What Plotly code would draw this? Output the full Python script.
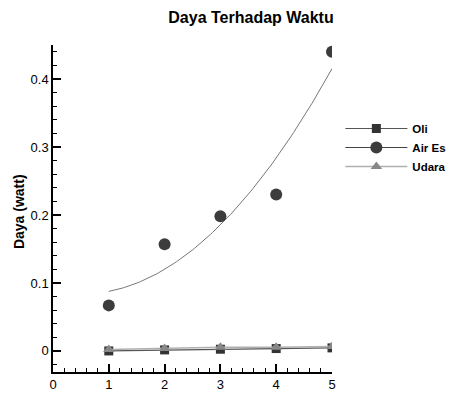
import numpy as np
import plotly.graph_objects as go

x = [1, 2, 3, 4, 5]
oli = [0.0, 0.0015, 0.0025, 0.0035, 0.0045]
air_es = [0.067, 0.157, 0.198, 0.230, 0.440]
udara = [0.002, 0.0035, 0.0055, 0.0055, 0.0065]

title = "Daya Terhadap Waktu"
y_title = "Daya (watt)"

coef = np.polyfit(x, air_es, 2)
xf = np.linspace(1, 5, 100)
yf = np.polyval(coef, xf)

fig = go.Figure()
fig.add_trace(go.Scatter(x=xf, y=yf, mode="lines", line=dict(color="#777777", width=1),
                         showlegend=False, hoverinfo="skip"))
fig.add_trace(go.Scatter(x=x, y=oli, mode="lines+markers", name="Oli",
                         line=dict(color="#555555", width=1.2),
                         marker=dict(symbol="square", size=9, color="#333333"), showlegend=False))
fig.add_trace(go.Scatter(x=x, y=udara, mode="lines+markers", name="Udara",
                         line=dict(color="#b0b0b0", width=1.5),
                         marker=dict(symbol="triangle-up", size=10, color="#888888"), showlegend=False))
fig.add_trace(go.Scatter(x=x, y=air_es, mode="markers", name="Air Es",
                         marker=dict(symbol="circle", size=12, color="#3c3c3c"), showlegend=False))
# legend entries
fig.add_trace(go.Scatter(x=[None], y=[None], mode="lines+markers", name="<b>Oli</b>",
                         line=dict(color="#555555", width=1.2),
                         marker=dict(symbol="square", size=9, color="#333333")))
fig.add_trace(go.Scatter(x=[None], y=[None], mode="lines+markers", name="<b>Air Es</b>",
                         line=dict(color="#444444", width=1.2),
                         marker=dict(symbol="circle", size=12, color="#3c3c3c")))
fig.add_trace(go.Scatter(x=[None], y=[None], mode="lines+markers", name="<b>Udara</b>",
                         line=dict(color="#b0b0b0", width=1.5),
                         marker=dict(symbol="triangle-up", size=10, color="#888888")))

font = "Liberation Sans, Arial, sans-serif"
fig.update_layout(
    width=449, height=395,
    margin=dict(l=53, r=117, t=45, b=23, autoexpand=False),
    paper_bgcolor="white", plot_bgcolor="white",
    font=dict(family=font, size=12, color="black"),
    title=dict(text="<b>" + title + "</b>", x=251/449, xanchor="center", y=1-17/395, yanchor="middle",
               font=dict(size=16, family=font, color="black")),
    legend=dict(x=1.03, y=0.789, xanchor="left", yanchor="top", itemwidth=62,
                font=dict(size=11.5, family=font, color="black"), tracegroupgap=0,
                bgcolor="rgba(0,0,0,0)"),
    showlegend=True,
    annotations=[dict(text="<b>" + y_title + "</b>", xref="paper", yref="paper",
                      x=-34/279, y=0.489, textangle=-90, showarrow=False,
                      xanchor="center", yanchor="middle", font=dict(size=14, family=font, color="black"))],
)
fig.update_xaxes(range=[0, 5], showgrid=False, zeroline=False, showline=True, linecolor="black", linewidth=1.5,
                 ticks="inside", ticklen=8, tickwidth=1.5, tickcolor="black", dtick=1, tick0=0,
                 minor=dict(ticks="inside", ticklen=4, dtick=0.2, tick0=0, tickcolor="black", tickwidth=1),
                 tickfont=dict(size=13), automargin=False)
fig.update_yaxes(range=[-0.031, 0.45], showgrid=False, zeroline=False, showline=True, linecolor="black", linewidth=1.5,
                 ticks="inside", ticklen=8, tickwidth=1.5, tickcolor="black", dtick=0.1, tick0=0,
                 minor=dict(ticks="inside", ticklen=4, dtick=0.02, tick0=0, tickcolor="black", tickwidth=1),
                 tickfont=dict(size=13), automargin=False)
fig.write_html("out.html", config={"displayModeBar": False},
               post_script="document.body.style.margin='0px';document.body.style.overflow='hidden';")
